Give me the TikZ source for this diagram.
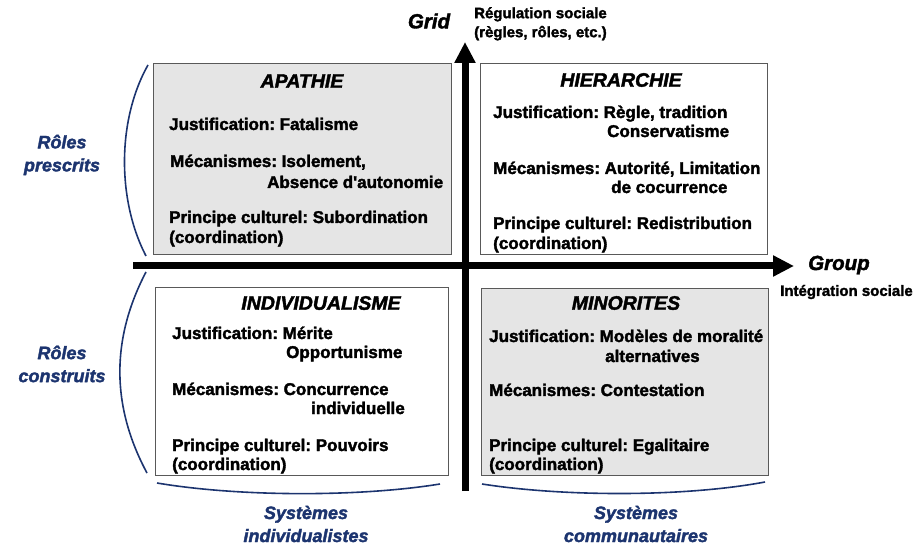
\documentclass[tikz,border=0pt]{standalone}
\usepackage{fontspec}
\setmainfont{Liberation Sans}[BoldFeatures={FakeBold=2},BoldItalicFeatures={FakeBold=2}]
\usetikzlibrary{arrows.meta}
\definecolor{navyblue}{HTML}{1C346F}
\definecolor{cellgray}{HTML}{E5E5E5}
\frenchspacing
\begin{document}
\begin{tikzpicture}[x=1pt,y=-1pt,
    quad/.style={draw=black!65,line width=0.9pt},
    qtitle/.style={font=\fontsize{19.5}{22}\selectfont\bfseries\itshape},
    qline/.style={anchor=base west,inner sep=0pt,font=\fontsize{17}{20}\selectfont\bfseries},
    sidelabel/.style={text=navyblue,align=center,font=\fontsize{18}{23}\selectfont\bfseries\itshape},
    bracket/.style={draw=navyblue,line width=1.6pt},
    axis/.style={line width=7pt,-{Triangle[length=21pt,width=20pt]}},
    axisname/.style={font=\fontsize{20.5}{24}\selectfont\bfseries\itshape},
    axisnote/.style={font=\fontsize{15}{19}\selectfont\bfseries,align=left}]
  \useasboundingbox (0,0) rectangle (919,545);
  % quadrants
  \foreach \xa/\ya/\xb/\yb/\col in {153/63/451/254/cellgray, 480/63/767/254/white,
      155/287/448/475/white, 481/288/768/475/cellgray} {
    \draw[quad,fill=\col] (\xa,\ya) rectangle (\xb,\yb);
  }
  % axes
  \coordinate (gridfoot) at (465,491);
  \coordinate (gridtip) at (465,42);
  \coordinate (groupfoot) at (133,266);
  \coordinate (grouptip) at (794,266);
  \draw[axis] (gridfoot) -- (gridtip);
  \draw[axis] (groupfoot) -- (grouptip);
  \node[axisname] (gridname) at (429,21) {Grid};
  \node[axisnote,anchor=north west,inner sep=0pt] (gridnote) at (474,7)
    {Régulation sociale\\(règles, rôles, etc.)};
  \node[axisname,anchor=west,inner sep=0pt] (groupname) at (808,265) {Group};
  \node[axisnote,anchor=west,inner sep=0pt] (groupnote) at (780,292) {Intégration sociale};
  % apathie
  \node[qtitle] (apathie) at (302,81) {APATHIE};
  \node[qline] (apa1) at (169,130) {Justification: Fatalisme};
  \node[qline] (apa2) at (170,167) {Mécanismes: Isolement,};
  \node[qline] (apa3) at (267,188) {Absence d\textquotesingle autonomie};
  \node[qline] (apa4) at (169,223) {Principe culturel: Subordination};
  \node[qline] (apa5) at (169,243) {(coordination)};
  % hierarchie
  \node[qtitle] (hierarchie) at (621,80) {HIERARCHIE};
  \node[qline] (hie1) at (493,118) {Justification: Règle, tradition};
  \node[qline] (hie2) at (607,137) {Conservatisme};
  \node[qline] (hie3) at (493,174) {Mécanismes: Autorité, Limitation};
  \node[qline] (hie4) at (611,193) {de cocurrence};
  \node[qline] (hie5) at (493,229) {Principe culturel: Redistribution};
  \node[qline] (hie6) at (493,249) {(coordination)};
  % individualisme
  \node[qtitle] (individualisme) at (321,303) {INDIVIDUALISME};
  \node[qline] (ind1) at (172,339) {Justification: Mérite};
  \node[qline] (ind2) at (286,358) {Opportunisme};
  \node[qline] (ind3) at (172,395) {Mécanismes: Concurrence};
  \node[qline] (ind4) at (311,414) {individuelle};
  \node[qline] (ind5) at (172,451) {Principe culturel: Pouvoirs};
  \node[qline] (ind6) at (172,470) {(coordination)};
  % minorites
  \node[qtitle] (minorites) at (626,303) {MINORITES};
  \node[qline] (min1) at (489,342) {Justification: Modèles de moralité};
  \node[qline] (min2) at (605,362) {alternatives};
  \node[qline] (min3) at (489,396) {Mécanismes: Contestation};
  \node[qline] (min4) at (489,451) {Principe culturel: Egalitaire};
  \node[qline] (min5) at (489,470) {(coordination)};
  % roles and systems
  \draw[bracket] (148,65) .. controls (117,120) and (117,200) .. (146,256);
  \draw[bracket] (146,272) .. controls (111,339) and (111,406) .. (147,473);
  \draw[bracket] (157,483) .. controls (240,497) and (360,497) .. (440,484);
  \draw[bracket] (482,484) .. controls (565,497) and (685,497) .. (765,482);
  \node[sidelabel] (prescrits) at (62,155) {Rôles\\prescrits};
  \node[sidelabel] (construits) at (62,364) {Rôles\\construits};
  \node[sidelabel] (individualistes) at (306,524) {Systèmes\\individualistes};
  \node[sidelabel] (communautaires) at (636,524) {Systèmes\\communautaires};
\end{tikzpicture}
\end{document}
